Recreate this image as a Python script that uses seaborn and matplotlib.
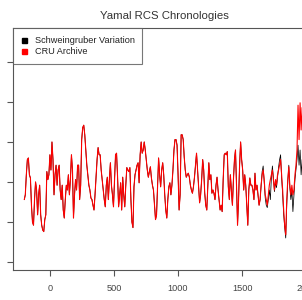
import numpy as np
import pandas as pd
import matplotlib
matplotlib.use("Agg")
import matplotlib.pyplot as plt
import seaborn as sns
from matplotlib.lines import Line2D

# ---- data ----
start_year = -200
year_step = 8

common_values = [
    0.78, 0.84, 1.09, 1.28, 1.30, 1.09, 1.05, 0.71, 0.50, 0.46, 0.78, 1.00, 0.90, 0.59, 0.84, 0.96,
    0.59, 0.46, 0.40, 0.38, 0.53, 0.59, 1.13, 1.03, 1.09, 1.34, 1.15, 1.50, 1.28, 0.84, 1.09, 1.21,
    0.96, 1.15, 1.21, 0.90, 0.78, 0.96, 0.65, 0.55, 0.78, 0.96, 0.90, 1.09, 0.84, 1.03, 1.34, 1.15,
    0.55, 0.84, 1.03, 0.90, 1.21, 1.21, 0.78, 0.96, 1.53, 1.68, 1.71, 1.59, 1.40, 1.21, 1.09, 0.96,
    0.90, 0.80, 0.78, 0.71, 0.65, 0.84, 1.06, 1.28, 1.43, 1.34, 1.34, 1.15, 1.03, 0.90, 0.78, 0.69,
    0.96, 1.06, 0.78, 1.03, 1.24, 0.96, 0.84, 0.69, 1.03, 1.34, 1.36, 1.06, 0.69, 0.84, 0.99, 0.65,
    1.06, 0.84, 0.69, 0.96, 1.18, 1.15, 1.13, 1.18, 0.78, 0.50, 0.43, 0.94, 1.09, 1.15, 1.21, 1.24,
    0.99, 1.34, 1.50, 1.36, 1.40, 1.50, 1.40, 1.28, 1.15, 1.06, 1.13, 1.19, 1.05, 0.96, 0.90, 0.71,
    0.53, 0.59, 0.96, 1.30, 1.09, 0.94, 1.15, 1.24, 1.09, 0.84, 0.65, 0.55, 0.78, 0.94, 0.99, 0.84,
    0.96, 1.15, 1.40, 1.53, 1.53, 1.46, 1.09, 0.65, 0.84, 1.59, 1.59, 1.53, 1.31, 1.15, 1.06, 1.09,
    1.11, 1.06, 0.96, 0.90, 0.86, 0.94, 1.06, 1.21, 1.36, 1.15, 0.94, 0.74, 0.84, 1.03, 1.28, 1.15,
    0.86, 0.71, 0.65, 0.96, 1.24, 1.03, 1.09, 0.86, 0.90, 0.86, 0.78, 0.96, 1.06, 0.90, 0.78, 0.65,
    0.71, 0.63, 1.03, 1.34, 1.36, 1.34, 1.38, 0.94, 0.78, 1.09, 0.90, 0.71, 1.03, 1.28, 1.40, 0.96,
    0.46, 0.78, 1.21, 1.50, 1.28, 1.15, 0.90, 1.09, 0.96, 0.71, 0.46, 0.90, 1.05, 0.96, 0.96, 0.90,
    0.78, 1.11, 0.90, 0.96, 0.84, 0.71, 0.78,
]

cru_tail = [
    0.96, 1.09, 1.15, 1.03, 0.84, 0.78, 0.71, 0.84, 0.96, 1.03, 1.09, 1.15, 1.03, 0.90, 1.03, 0.96,
    1.09, 1.15, 1.21, 1.28, 1.09, 0.90, 0.65, 0.46, 0.34, 0.78, 1.03, 1.19, 0.96, 0.84, 0.96, 0.84,
    0.90, 1.09, 1.21, 1.40, 1.96, 1.53, 1.99, 1.65, 1.93, 1.75, 1.90, 1.70,
]

schweingruber_tail = [
    0.96, 1.13, 1.20, 1.00, 0.80, 0.71, 0.68, 0.78, 0.90, 0.78, 1.05, 1.20, 1.05, 0.88, 1.00, 0.93,
    1.06, 1.18, 1.28, 1.34, 1.05, 0.84, 0.59, 0.43, 0.30, 0.71, 1.00, 1.21, 0.93, 0.78, 0.90, 0.63,
    0.84, 1.03, 1.15, 1.28, 1.46, 1.21, 1.40, 1.09, 1.28, 1.20, 1.35, 1.15,
]

series_names = ["Schweingruber Variation", "CRU Archive"]
series_colors = ["black", "red"]
x_ticks = [0, 500, 1000, 1500, 2000]
y_ticks = [0.0, 0.5, 1.0, 1.5, 2.0, 2.5]
title = "Yamal RCS Chronologies"

schw = common_values + schweingruber_tail
cru = common_values + cru_tail
years = start_year + year_step * np.arange(len(cru))

df_schw = pd.DataFrame({"year": years, "value": schw})
df_cru = pd.DataFrame({"year": years, "value": cru})

# ---- figure ----
sns.set_style("white")
plt.rcParams["font.family"] = ["Liberation Sans", "DejaVu Sans"]

W, H = 302, 300
fig = plt.figure(figsize=(W / 100, H / 100), dpi=100)
fig.patch.set_facecolor("white")
left, right, top, bottom = 13, 317, 28, 270
ax = fig.add_axes([left / W, 1 - bottom / H, (right - left) / W, (bottom - top) / H])
ax.set_facecolor("white")

sns.lineplot(data=df_schw, x="year", y="value", color=series_colors[0],
             estimator=None, linewidth=0.55, ax=ax)
sns.lineplot(data=df_cru, x="year", y="value", color=series_colors[1],
             estimator=None, linewidth=0.8, ax=ax)

ax.set_xlim(-288, 2084)
ax.set_ylim(-0.1, 2.925)
ax.set_xticks(x_ticks)
ax.set_xticklabels([str(t) for t in x_ticks], fontsize=6.6, color="#444444")
ax.set_yticks(y_ticks)
ax.set_yticklabels([])
ax.set_xlabel("")
ax.set_ylabel("")
ax.tick_params(axis="both", direction="out", length=4.5, width=0.8, color="#555555",
               bottom=True, left=True, pad=5.5)
for s in ax.spines.values():
    s.set_visible(True)
    s.set_color("#555555")
    s.set_linewidth(0.8)

handles = [Line2D([], [], linestyle="none", marker="s", markersize=3.6,
                  markerfacecolor=c, markeredgecolor=c) for c in series_colors]
leg = ax.legend(handles, series_names, loc="upper left", bbox_to_anchor=(0, 1),
                borderaxespad=0, fontsize=6.6, frameon=True, fancybox=False,
                handlelength=0.8, handletextpad=0.7, labelspacing=0.25, borderpad=0.85)
leg.get_frame().set_edgecolor("#555555")
leg.get_frame().set_linewidth(0.8)
for t in leg.get_texts():
    t.set_color("#222222")

fig.text(164 / W, 1 - 16 / H, title, ha="center", va="center", fontsize=8.2, color="#333333")

fig.savefig("out.png", dpi=100, facecolor="white")
